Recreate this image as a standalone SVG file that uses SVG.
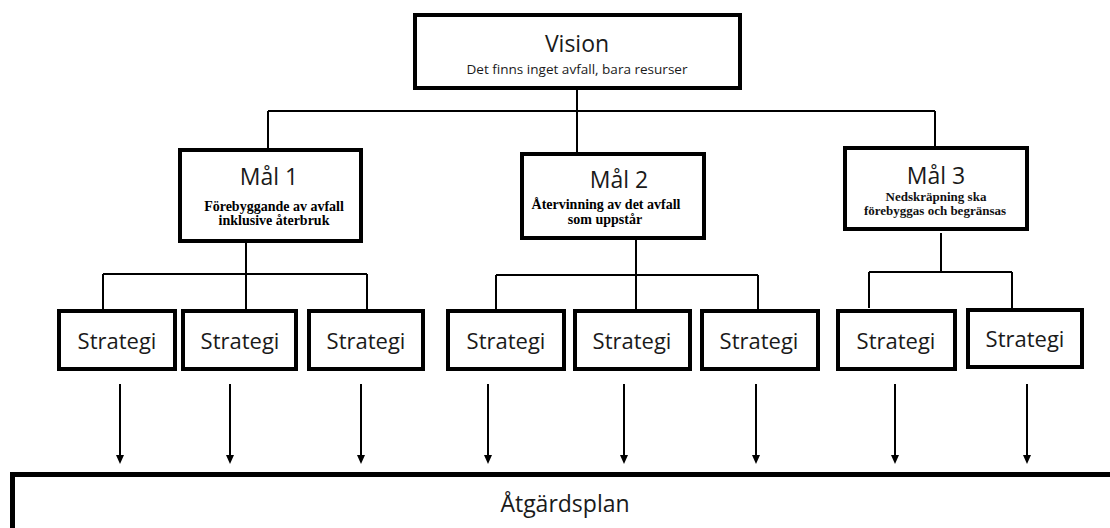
<svg xmlns="http://www.w3.org/2000/svg" width="1110" height="528" viewBox="0 0 1110 528">
<style>
.box{fill:#fff;stroke:#000;stroke-width:4}
.ttl{font-family:"Open Sans","Liberation Sans",sans-serif;font-size:23px;fill:#1a1a1a;text-anchor:middle}
.sub{font-family:"Liberation Serif","Times New Roman",serif;font-size:14px;font-weight:bold;fill:#000;text-anchor:middle}
.sub3{font-family:"Liberation Serif","Times New Roman",serif;font-size:13px;font-weight:bold;fill:#111;text-anchor:middle}
.vs{font-family:"Open Sans","Liberation Sans",sans-serif;font-size:13px;fill:#1a1a1a;text-anchor:middle}
.st{font-family:"Open Sans","Liberation Sans",sans-serif;font-size:22px;fill:#1a1a1a;text-anchor:middle}
.ln{fill:none;stroke:#000;stroke-width:2}
.ah{fill:#000}
</style>
<g id="connectors">
<path class="ln" d="M577,90 V152 M268,111 H935 M268,111 V148 M935,111 V146"/>
<path class="ln" d="M246,243 V309 M103,274 H367 M103,274 V309 M367,274 V309"/>
<path class="ln" d="M636,240 V309 M496,275 H758 M496,275 V309 M758,275 V309"/>
<path class="ln" d="M941,233 V272 M869,272 H1012 M869,272 V308 M1012,272 V308"/>
<path class="ln" d="M120,384 V455 M230,384 V455 M361,384 V455 M488,384 V455 M624,384 V455 M756,384 V455 M895,384 V455 M1027,384 V455"/>
<path class="ah" d="M116,455 L124,455 L120,464 Z M226,455 L234,455 L230,464 Z M357,455 L365,455 L361,464 Z M484,455 L492,455 L488,464 Z M620,455 L628,455 L624,464 Z M752,455 L760,455 L756,464 Z M891,455 L899,455 L895,464 Z M1023,455 L1031,455 L1027,464 Z"/>
</g>
<g id="vision">
<rect class="box" x="415" y="15" width="325" height="73"/>
<text class="ttl" x="577" y="52">Vision</text>
<text class="vs" x="577" y="74" textLength="221" lengthAdjust="spacingAndGlyphs">Det finns inget avfall, bara resurser</text>
</g>
<g id="mal1">
<rect class="box" x="180" y="150" width="181" height="91"/>
<text class="ttl" x="269" y="185">Mål 1</text>
<text class="sub" x="274" y="211">Förebyggande av avfall</text>
<text class="sub" x="274" y="225">inklusive återbruk</text>
</g>
<g id="mal2">
<rect class="box" x="522" y="154" width="182" height="84"/>
<text class="ttl" x="619" y="188">Mål 2</text>
<text class="sub" x="606" y="209">Återvinning av det avfall</text>
<text class="sub" x="605" y="224">som uppstår</text>
</g>
<g id="mal3">
<rect class="box" x="845" y="148" width="182" height="81"/>
<text class="ttl" x="936" y="184">Mål 3</text>
<text class="sub3" x="936" y="201">Nedskräpning ska</text>
<text class="sub3" x="935" y="215">förebyggas och begränsas</text>
</g>
<g id="strategi1"><rect class="box" x="59" y="311" width="116" height="58"/><text class="st" x="117" y="349">Strategi</text></g>
<g id="strategi2"><rect class="box" x="183" y="311" width="113" height="58"/><text class="st" x="240" y="349">Strategi</text></g>
<g id="strategi3"><rect class="box" x="309" y="311" width="114" height="58"/><text class="st" x="366" y="349">Strategi</text></g>
<g id="strategi4"><rect class="box" x="448" y="311" width="116" height="58"/><text class="st" x="506" y="349">Strategi</text></g>
<g id="strategi5"><rect class="box" x="575" y="311" width="115" height="58"/><text class="st" x="632" y="349">Strategi</text></g>
<g id="strategi6"><rect class="box" x="702" y="311" width="116" height="58"/><text class="st" x="759" y="349">Strategi</text></g>
<g id="strategi7"><rect class="box" x="838" y="311" width="117" height="58"/><text class="st" x="896" y="349">Strategi</text></g>
<g id="strategi8"><rect class="box" x="968" y="310" width="114" height="57"/><text class="st" x="1025" y="347">Strategi</text></g>
<g id="atgardsplan">
<rect x="12.5" y="474.5" width="1110" height="100" fill="#fff" stroke="#000" stroke-width="5"/>
<text class="ttl" x="565" y="512">Åtgärdsplan</text>
</g>
</svg>
